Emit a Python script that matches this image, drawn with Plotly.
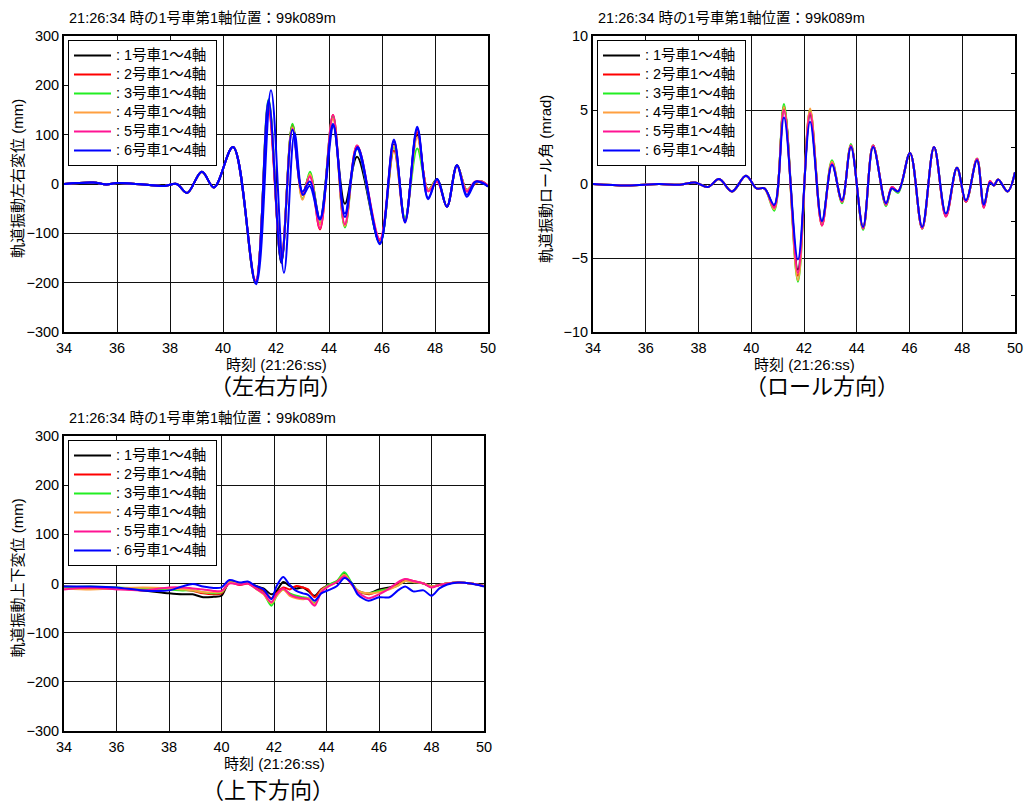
import plotly.graph_objects as go

W, H = 1026, 803
FONT = "Liberation Sans, Arial, Noto Sans CJK JP, sans-serif"

CARS = ["1号車", "2号車", "3号車", "4号車", "5号車", "6号車"]
COLORS = ["#000000", "#ff0000", "#22ee22", "#ffa040", "#ff1493", "#0000ff"]
LEGEND_TEXT = ['<span style="font-size:14.5px">: ' + c + "1～4軸\u00a0</span>" for c in CARS]

# ---------------- Lateral (左右) displacement, mm ----------------
T_LAT = [34.0, 35.1, 35.6, 36.0, 37.0, 37.8, 38.25, 38.65, 39.2, 39.66, 40.38,
         41.23, 41.72, 42.2, 42.62, 43.0, 43.28, 43.66, 44.15, 44.6, 45.06,
         45.92, 46.45, 46.87, 47.33, 47.74, 48.08, 48.45, 48.83, 49.2, 49.5,
         49.75, 50.0]
LAT_1 = [0, 3, -1, 2, -1, -4, 0, -18, 25, -7, 75, -200, 165, -160, 118, -22, 18,
         -72, 120, -40, 55, -118, 80, -72, 100, -12, 10, -46, 38, -12, 2, 5, -5]
LAT_2 = [0, 3, -1, 2, -1, -4, 0, -18, 25, -7, 75, -200, 150, -155, 120, -20, 18,
         -92, 140, -85, 78, -115, 68, -75, 105, -12, 5, -46, 38, -15, 0, 5, -3]
LAT_3 = [0, 3, -1, 2, -1, -4, 0, -18, 25, -7, 75, -200, 172, -155, 122, -30, 25,
         -80, 138, -88, 72, -120, 75, -70, 72, -12, 8, -46, 38, -12, 2, 5, -5]
LAT_4 = [0, 3, -1, 2, -1, -4, 0, -18, 25, -7, 75, -200, 165, -150, 115, -32, 20,
         -82, 132, -85, 75, -118, 78, -75, 95, -12, 8, -46, 35, -12, 2, 5, -5]
LAT_5 = [0, 3, -1, 2, -1, -4, 0, -18, 25, -7, 75, -195, 150, -152, 112, -22, 15,
         -90, 140, -82, 78, -112, 88, -78, 110, -15, 5, -46, 38, -15, 5, 5, -3]
T_LAT_6 = [34.0, 35.1, 35.6, 36.0, 37.0, 37.8, 38.25, 38.65, 39.2, 39.66, 40.38,
           41.25, 41.81, 42.3, 42.7, 43.02, 43.27, 43.66, 44.17, 44.6, 45.08,
           45.92, 46.45, 46.87, 47.33, 47.74, 48.08, 48.45, 48.83, 49.2, 49.55,
           49.75, 50.0]
LAT_6 = [0, 3, -1, 2, -1, -4, 0, -18, 25, -7, 75, -203, 190, -180, 103, -22, -4,
         -72, 118, -67, 75, -122, 90, -78, 116, -31, 10, -46, 38, -26, 5, 3, -5]
LAT_6B = [0, 3, -1, 2, -1, -4, 0, -18, 25, -7, 75, -200, 170, -158, 110, -15, 5,
          -70, 122, -60, 72, -120, 86, -75, 112, -28, 10, -46, 38, -22, 4, 3, -5]

# ---------------- Roll (ロール) angle, mrad ----------------
T_ROLL = [34.0, 35.3, 36.5, 37.3, 37.87, 38.36, 38.78, 39.27, 39.8, 40.2, 40.5,
          40.87, 41.24, 41.77, 42.23, 42.68, 43.06, 43.44, 43.78, 44.24, 44.62,
          45.11, 45.33, 45.57, 46.02, 46.48, 46.93, 47.38, 47.8, 48.14, 48.56,
          48.82, 49.05, 49.2, 49.36, 49.72, 50.0]
ROLL_6 = [0, -0.1, 0, -0.05, 0.1, -0.2, 0.33, -0.5, 0.55, -0.3, -0.3, -1.4, 4.5,
          -5.1, 4.2, -2.5, 1.3, -1.1, 2.5, -2.9, 2.5, -1.3, -0.3, -0.5, 2.1,
          -2.9, 2.5, -2.0, 1.1, -1.1, 1.6, -1.4, 0.1, -0.1, 0.3, -0.5, 0.8]
ROLL_1 = [0, -0.1, 0, -0.05, 0.1, -0.2, 0.33, -0.5, 0.55, -0.3, -0.3, -1.5, 5.2,
          -5.8, 4.7, -2.6, 1.4, -1.2, 2.6, -3.0, 2.6, -1.4, -0.3, -0.5, 2.1,
          -3.0, 2.5, -2.1, 1.1, -1.2, 1.7, -1.5, 0.1, -0.1, 0.3, -0.5, 0.8]
ROLL_2 = [0, -0.1, 0, -0.05, 0.1, -0.2, 0.33, -0.5, 0.55, -0.3, -0.3, -1.6, 5.2,
          -6.2, 5.0, -2.8, 1.5, -1.2, 2.6, -3.0, 2.6, -1.4, -0.2, -0.5, 2.1,
          -3.0, 2.5, -2.2, 1.1, -1.2, 1.7, -1.6, 0.2, -0.1, 0.3, -0.5, 0.8]
ROLL_3 = [0, -0.1, 0, -0.05, 0.1, -0.2, 0.33, -0.5, 0.55, -0.3, -0.3, -1.8, 5.4,
          -6.6, 5.0, -2.7, 1.6, -1.3, 2.7, -3.1, 2.6, -1.5, -0.3, -0.6, 2.1,
          -3.0, 2.5, -2.1, 1.1, -1.2, 1.7, -1.5, 0.1, -0.1, 0.3, -0.5, 0.8]
ROLL_4 = [0, -0.1, 0, -0.05, 0.1, -0.2, 0.33, -0.5, 0.55, -0.3, -0.3, -1.7, 5.2,
          -6.5, 5.1, -2.8, 1.5, -1.2, 2.6, -3.0, 2.6, -1.4, -0.3, -0.5, 2.1,
          -3.0, 2.5, -2.1, 1.1, -1.2, 1.7, -1.5, 0.1, -0.1, 0.3, -0.5, 0.8]
ROLL_5 = [0, -0.1, 0, -0.05, 0.1, -0.2, 0.33, -0.5, 0.55, -0.3, -0.3, -1.6, 5.0,
          -6.0, 4.8, -2.8, 1.4, -1.2, 2.6, -3.0, 2.6, -1.4, -0.2, -0.5, 2.1,
          -3.0, 2.5, -2.2, 1.1, -1.2, 1.7, -1.6, 0.2, -0.1, 0.3, -0.5, 0.8]
ROLL_MINOR_TICKS = [-7.5, -2.5, 2.5, 7.5]

# ---------------- Vertical (上下) displacement, mm ----------------
T_VERT = [34.0, 35.0, 36.0, 37.0, 38.0, 38.5, 38.9, 39.3, 39.7, 40.0, 40.3, 40.7,
          41.0, 41.3, 41.6, 41.9, 42.1, 42.35, 42.6, 42.85, 43.1, 43.3, 43.55,
          43.8, 44.1, 44.4, 44.68, 44.95, 45.2, 45.6, 46.0, 46.4, 46.7, 47.0,
          47.3, 47.7, 48.0, 48.3, 48.6, 49.0, 49.5, 50.0]
VERT_1 = [-6, -8, -10, -14, -20, -22, -22, -28, -27, -25, 3, 0, 2, -5, -10, -22,
          -15, 3, -5, -10, -8, -15, -25, -12, -3, 3, 20, 0, -15, -20, -12, -8,
          -3, 5, 3, 0, -6, -3, 0, 2, 0, -5]
VERT_2 = [-8, -10, -10, -12, -10, -12, -15, -20, -22, -20, 2, -3, 0, -8, -15, -30,
          -20, -8, -12, -5, -8, -12, -28, -12, -3, 5, 18, 0, -15, -22, -15, -10,
          -3, 8, 5, 0, -6, -3, 0, 2, 0, -5]
VERT_3 = [-8, -6, -8, -10, -12, -14, -14, -18, -20, -18, 2, 0, 2, -10, -20, -45,
          -25, -12, -20, -25, -28, -30, -40, -15, -2, 5, 23, 2, -15, -20, -15,
          -10, -5, 5, 3, 0, -6, -3, 0, 2, 0, -5]
VERT_4 = [-10, -12, -10, -8, -10, -12, -14, -18, -18, -17, 2, 0, 2, -10, -22, -40,
          -25, -12, -25, -30, -32, -30, -42, -15, -5, 3, 18, 0, -15, -20, -18,
          -12, -5, 5, 3, 0, -6, -3, 0, 2, 0, -5]
VERT_5 = [-12, -8, -12, -14, -8, -8, -10, -12, -15, -15, 0, -2, 0, -10, -20, -38,
          -22, -10, -22, -28, -30, -32, -45, -18, -5, 3, 15, -2, -18, -30, -22,
          -10, 2, 9, 5, 0, -8, -3, 0, 2, 0, -5]
VERT_6 = [-6, -6, -8, -14, -14, -6, -1, -6, -9, -8, 7, 2, 4, -5, -12, -32, -5, 13,
          -3, -15, -20, -23, -35, -20, -13, -5, 11, 1, -23, -35, -28, -28, -15,
          -6, -16, -14, -25, -10, -2, 2, 0, -6]

TITLE = "21:26:34 時の1号車第1軸位置：99k089m"
X_TICKS = [34, 36, 38, 40, 42, 44, 46, 48, 50]


def px_x(p):
    return p / W


def px_y(p):
    return 1 - p / H


fig = go.Figure()

lat_series = [(T_LAT, LAT_1), (T_LAT, LAT_2), (T_LAT, LAT_3), (T_LAT, LAT_4),
              (T_LAT, LAT_5), (T_LAT_6, LAT_6)]
roll_series = [ROLL_1, ROLL_2, ROLL_3, ROLL_4, ROLL_5, ROLL_6]
vert_series = [VERT_1, VERT_2, VERT_3, VERT_4, VERT_5, VERT_6]

for i in range(6):
    if i == 5:
        fig.add_trace(go.Scatter(x=T_LAT, y=LAT_6B, mode="lines",
                                 line=dict(color=COLORS[i], width=2, shape="spline", smoothing=1.0),
                                 showlegend=False, xaxis="x", yaxis="y", hoverinfo="skip"))
    t, v = lat_series[i]
    fig.add_trace(go.Scatter(x=t, y=v, mode="lines", name=LEGEND_TEXT[i],
                             line=dict(color=COLORS[i], width=2, shape="spline", smoothing=1.0),
                             xaxis="x", yaxis="y", legend="legend"))
for i in range(6):
    fig.add_trace(go.Scatter(x=T_ROLL, y=roll_series[i], mode="lines", name=LEGEND_TEXT[i],
                             line=dict(color=COLORS[i], width=2, shape="spline", smoothing=1.0),
                             xaxis="x2", yaxis="y2", legend="legend2"))
for i in range(6):
    fig.add_trace(go.Scatter(x=T_VERT, y=vert_series[i], mode="lines", name=LEGEND_TEXT[i],
                             line=dict(color=COLORS[i], width=2, shape="spline", smoothing=0.8),
                             xaxis="x3", yaxis="y3", legend="legend3"))

panels = [  # (left, right, top, bottom) in px
    (64, 488, 36, 332),
    (593, 1015, 36, 332),
    (64, 484, 436, 731),
]
yranges = [(-300, 300, 100), (-10, 10, 5), (-300, 300, 100)]

axis_common = dict(showline=True, linewidth=2, linecolor="black", mirror=True,
                   showgrid=True, gridcolor="#111111", gridwidth=1, zeroline=False,
                   automargin=False, ticks="",
                   tickfont=dict(family=FONT, size=14.5, color="black"))

layout = dict(width=W, height=H, margin=dict(l=0, r=0, t=0, b=0, pad=0),
              template="none",
              paper_bgcolor="white", plot_bgcolor="white",
              font=dict(family=FONT, color="black"), showlegend=True)

for k, (l, r, t, b) in enumerate(panels):
    sx = "" if k == 0 else str(k + 1)
    lo, hi, dt = yranges[k]
    layout["xaxis" + sx] = dict(axis_common, domain=[px_x(l), px_x(r)], range=[34, 50],
                                tickvals=X_TICKS, anchor="y" + sx, ticklabelstandoff=2)
    layout["yaxis" + sx] = dict(axis_common, domain=[px_y(b), px_y(t)], range=[lo, hi],
                                dtick=dt, anchor="x" + sx)
    layout["legend" + sx] = dict(x=px_x(l + 4), y=px_y(t + 4), xanchor="left", yanchor="top",
                                 bgcolor="white", bordercolor="black", borderwidth=1,
                                 font=dict(family=FONT, size=11, color="black"),
                                 tracegroupgap=0, itemwidth=37)

# minor inside ticks on the right edge of the roll panel
layout["yaxis4"] = dict(overlaying="y2", side="right", anchor="x2", range=[-10, 10],
                        tickvals=ROLL_MINOR_TICKS, ticks="inside", ticklen=4, tickwidth=1,
                        tickcolor="black", showticklabels=False, showgrid=False,
                        zeroline=False, showline=False, automargin=False)
fig.add_trace(go.Scatter(x=[], y=[], xaxis="x2", yaxis="y4", showlegend=False, hoverinfo="skip"))

annotations = []
for (l, r, t, b) in panels:
    annotations.append(dict(text=TITLE, x=px_x(l + 3), y=px_y(t - 18), xref="paper", yref="paper",
                            xanchor="left", yanchor="middle", showarrow=False,
                            font=dict(family=FONT, size=14.5, color="black")))
    annotations.append(dict(text="時刻 (21:26:ss)", x=px_x((l + r) / 2), y=px_y(b + 32),
                            xref="paper", yref="paper", xanchor="center", yanchor="middle",
                            showarrow=False, font=dict(family=FONT, size=15, color="black")))
ytitles = ["軌道振動左右変位 (mm)", "軌道振動ロール角 (mrad)", "軌道振動上下変位 (mm)"]
ytitle_x = [17, 545, 17]
for k, (l, r, t, b) in enumerate(panels):
    annotations.append(dict(text=ytitles[k], x=px_x(ytitle_x[k]), y=px_y((t + b) / 2 - 5),
                            xref="paper", yref="paper", xanchor="center", yanchor="middle",
                            textangle=-90, showarrow=False,
                            font=dict(family=FONT, size=15, color="black")))
captions = [("（左右方向）", 276, 387), ("（ロール方向）", 822, 387), ("（上下方向）", 268, 790)]
for txt, cx, cy in captions:
    annotations.append(dict(text=txt, x=px_x(cx), y=px_y(cy), xref="paper", yref="paper",
                            xanchor="center", yanchor="middle", showarrow=False,
                            font=dict(family=FONT, size=22, color="black")))
layout["annotations"] = annotations

fig.update_layout(**layout)
fig.write_html("out.html", config={"displayModeBar": False},
               post_script="document.body.style.margin='0';")
